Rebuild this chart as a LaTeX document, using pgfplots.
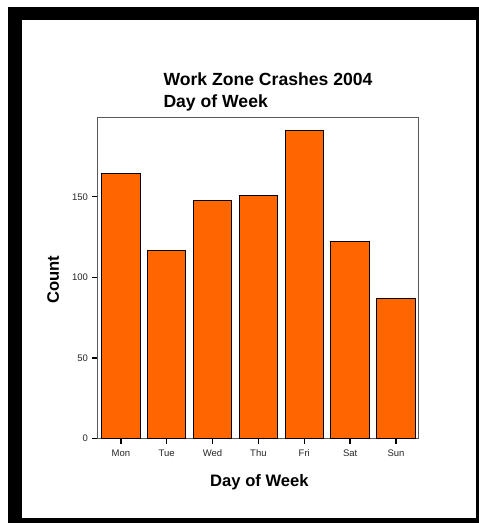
\documentclass[border=0pt]{standalone}
\usepackage{pgfplots}
\pgfplotsset{compat=1.18}
\usepackage{fontspec}
\setmainfont{Liberation Sans}
\definecolor{barorange}{HTML}{FF6600}
\begin{document}
\begin{tikzpicture}
\path (0,0) rectangle (479bp,-523bp);
\fill[black] (8bp,-7bp) rectangle (479bp,-523bp);
\fill[white] (22bp,-20bp) rectangle (476bp,-518bp);
\node[anchor=base west, inner sep=0pt, font=\fontsize{17.6bp}{19bp}\selectfont\bfseries] at (163.3bp,-85bp) {Work Zone Crashes 2004};
\node[anchor=base west, inner sep=0pt, font=\fontsize{17.6bp}{19bp}\selectfont\bfseries] at (163.3bp,-107.7bp) {Day of Week};
\begin{axis}[
  at={(97bp,-438.5bp)}, anchor=south west,
  scale only axis, width=321bp, height=321.5bp,
  xmin=-0.52, xmax=6.48, ymin=0, ymax=199.5,
  axis line style={draw=black!65, line width=0.8bp},
  xtick={0,1,2,3,4,5,6},
  xticklabels={Mon,Tue,Wed,Thu,Fri,Sat,Sun},
  ytick={0,50,100,150},
  tick align=outside,
  major tick length=5bp,
  tick style={black, line width=1.4bp},
  xtick pos=bottom, ytick pos=left,
  /pgf/number format/assume math mode=true,
  ticklabel style={font=\fontsize{9.5bp}{10bp}\selectfont, text=black!85},
  xticklabel style={yshift=-3bp},
  yticklabel style={xshift=-0.5bp},
  xlabel={Day of Week}, ylabel={Count},
  label style={font=\fontsize{16.6bp}{18bp}\selectfont\bfseries},
  xlabel style={at={(axis description cs:0.506,-0.15)}, anchor=base},
  ylabel style={at={(axis description cs:-0.1184,0.494)}, anchor=base, rotate=0},
  ]
\addplot[ybar, bar width=0.84, fill=barorange, draw=black, line width=1bp]
  coordinates {(0,164.5) (1,116.7) (2,147.8) (3,150.9) (4,191.2) (5,122.1) (6,87)};
\end{axis}
\end{tikzpicture}
\end{document}
